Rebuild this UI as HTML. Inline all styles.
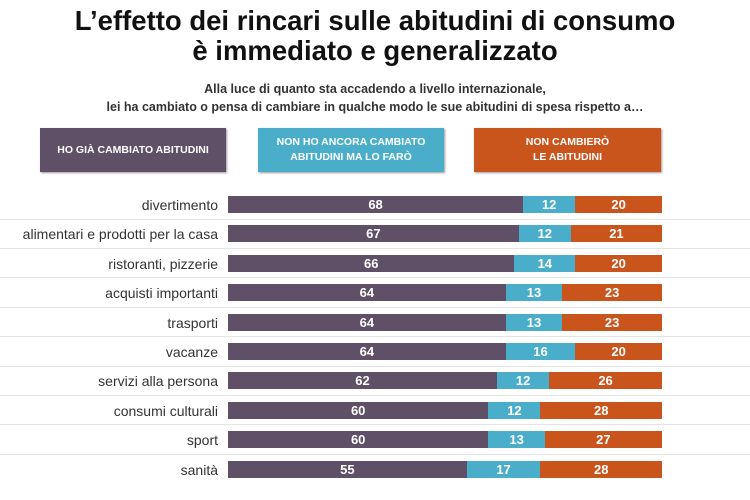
<!DOCTYPE html>
<html><head><meta charset="utf-8"><style>
body{margin:0;width:750px;height:500px;background:#fff;font-family:"Liberation Sans",sans-serif;position:relative;overflow:hidden}
.t{position:absolute;left:0;width:750px;text-align:center;color:#111;font-weight:bold}
.lg{position:absolute;top:128px;height:44px;color:#fff;font-weight:bold;font-size:10.5px;display:flex;align-items:center;justify-content:center;text-align:center;line-height:15px;box-shadow:1px 1px 2px #999}
.row{position:absolute;left:0;width:750px;height:29px}
.lab{position:absolute;right:532px;top:7px;font-size:14px;color:#333;white-space:nowrap}
.bar{position:absolute;top:6px;height:17px;color:#fff;font-weight:bold;font-size:13px;text-align:center;line-height:17px}
.sep{position:absolute;left:0;width:750px;height:1px;background:#e4e4e4}
</style></head><body>
<div class="t" style="top:6px;font-size:27.5px;line-height:30px">L’effetto dei rincari sulle abitudini di consumo<br>è immediato e generalizzato</div>
<div class="t" style="top:80px;font-size:12.5px;line-height:18px;color:#333">Alla luce di quanto sta accadendo a livello internazionale,<br>lei ha cambiato o pensa di cambiare in qualche modo le sue abitudini di spesa rispetto a…</div>
<div class="lg" style="left:40px;width:186px;background:#5f5068">HO GIÀ CAMBIATO ABITUDINI</div>
<div class="lg" style="left:258px;width:186px;background:#4aaecb">NON HO ANCORA CAMBIATO<br>ABITUDINI MA LO FARÒ</div>
<div class="lg" style="left:474px;width:187px;background:#c9541c">NON CAMBIERÒ<br>LE ABITUDINI</div>
<div id="rows"></div>
<script>
var d=[["divertimento",68,12,20],["alimentari e prodotti per la casa",67,12,21],["ristoranti, pizzerie",66,14,20],["acquisti importanti",64,13,23],["trasporti",64,13,23],["vacanze",64,16,20],["servizi alla persona",62,12,26],["consumi culturali",60,12,28],["sport",60,13,27],["sanità",55,17,28]];
var h="",s=4.34,x0=228;
d.forEach(function(r,i){var y=190+i*29.4;
h+='<div class="row" style="top:'+y+'px"><div class="lab">'+r[0]+'</div>';
var x=x0,c=["#5f5068","#4aaecb","#c9541c"];
for(var k=1;k<4;k++){var w=r[k]*s;if(k==3)w=662-x;h+='<div class="bar" style="left:'+x+'px;width:'+w+'px;background:'+c[k-1]+'">'+r[k]+'</div>';x+=w;}
h+='</div>';if(i<9)h+='<div class="sep" style="top:'+(y+28.5)+'px"></div>';});
document.getElementById("rows").innerHTML=h;
</script>
</body></html>
